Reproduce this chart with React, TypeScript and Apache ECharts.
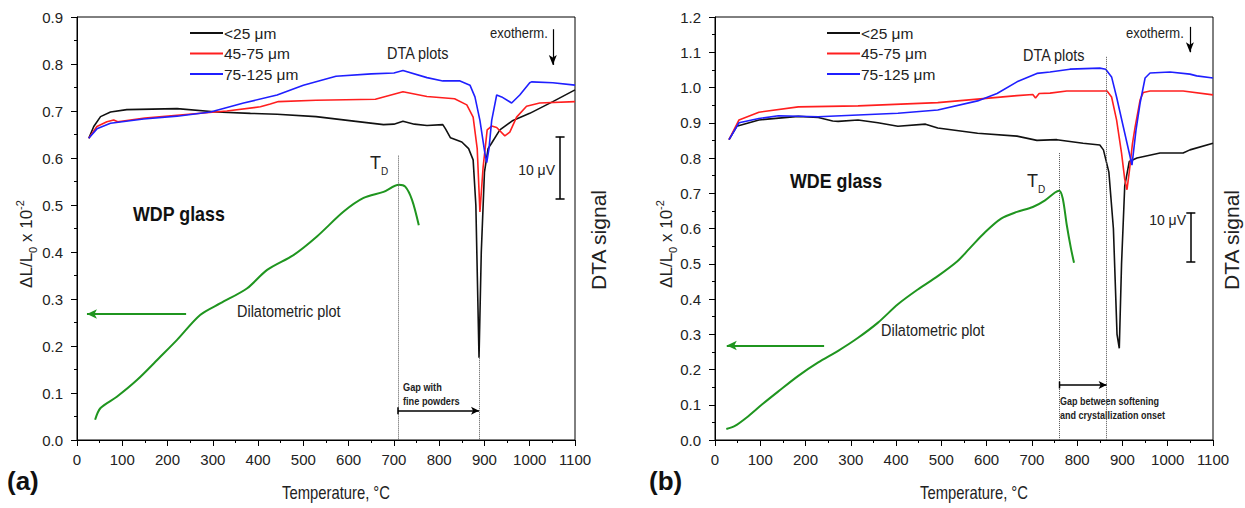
import { useEffect, useRef } from "react";
import * as echarts from "echarts";

// ---------- data (temperature °C, value in left-axis units) ----------
const sizeNames = ["<25 μm", "45-75 μm", "75-125 μm"];
const xTickMax = 1100;
const xTickStep = 100;
const yMaxA = 0.9;
const yMaxB = 1.2;
const yStep = 0.1;

const aBlack = [
  [26, 0.642], [37, 0.667], [52, 0.688], [74, 0.698], [110, 0.703], [221, 0.705], [309, 0.698],
  [383, 0.695], [442, 0.693], [528, 0.688], [616, 0.678], [677, 0.671], [700, 0.672], [720, 0.678],
  [745, 0.672], [773, 0.669], [808, 0.671], [814, 0.662], [825, 0.643], [850, 0.634], [865, 0.62],
  [875, 0.596], [881, 0.5], [888, 0.175], [893, 0.4], [900, 0.57], [908, 0.62], [916, 0.632],
  [934, 0.66], [963, 0.68], [1000, 0.695], [1051, 0.72], [1100, 0.745],
];
const aRed = [
  [26, 0.642], [44, 0.667], [66, 0.677], [81, 0.681], [90, 0.677], [150, 0.685], [221, 0.691],
  [331, 0.7], [405, 0.709], [427, 0.715], [445, 0.72], [528, 0.723], [659, 0.725], [720, 0.741],
  [773, 0.731], [834, 0.726], [861, 0.713], [875, 0.687], [884, 0.62], [890, 0.485],
  [897, 0.58], [906, 0.66], [916, 0.668], [927, 0.665], [945, 0.647], [956, 0.655],
  [971, 0.687], [993, 0.71], [1022, 0.717], [1100, 0.72],
];
const aBlue = [
  [26, 0.642], [44, 0.662], [74, 0.674], [147, 0.683], [221, 0.689], [295, 0.698], [368, 0.717],
  [442, 0.734], [500, 0.755], [572, 0.774], [650, 0.779], [700, 0.781], [720, 0.786],
  [773, 0.771], [808, 0.764], [846, 0.764], [868, 0.755], [879, 0.73], [890, 0.68], [901, 0.61],
  [905, 0.59], [910, 0.62], [916, 0.68], [927, 0.734], [938, 0.73], [960, 0.717], [978, 0.734],
  [1000, 0.76], [1004, 0.762], [1051, 0.76], [1100, 0.755],
];
const aGreen = [
  [40, 0.043], [52, 0.068], [88, 0.092], [133, 0.128], [184, 0.177], [221, 0.213], [272, 0.266],
  [317, 0.291], [376, 0.323], [420, 0.362], [479, 0.394], [530, 0.433], [589, 0.486],
  [633, 0.515], [677, 0.528], [711, 0.543], [725, 0.539], [740, 0.511], [755, 0.457],
];

const bBlack = [
  [31, 0.852], [48, 0.89], [97, 0.908], [184, 0.918], [228, 0.915], [260, 0.905], [272, 0.904],
  [316, 0.908], [360, 0.9], [404, 0.89], [465, 0.896], [492, 0.885], [580, 0.87],
  [667, 0.862], [711, 0.85], [755, 0.852], [813, 0.842], [850, 0.837], [858, 0.823],
  [870, 0.76], [880, 0.6], [888, 0.3], [893, 0.26], [898, 0.5], [905, 0.72], [915, 0.79],
  [932, 0.8], [983, 0.814], [1034, 0.814], [1049, 0.823], [1100, 0.842],
];
const bRed = [
  [31, 0.852], [53, 0.908], [97, 0.93], [184, 0.945], [316, 0.948], [492, 0.957], [580, 0.967],
  [667, 0.977], [702, 0.98], [708, 0.97], [716, 0.983], [740, 0.984], [777, 0.99],
  [866, 0.99], [876, 0.973], [887, 0.908], [898, 0.814], [905, 0.74], [910, 0.71],
  [915, 0.76], [922, 0.84], [928, 0.888], [939, 0.965], [946, 0.986], [961, 0.99],
  [1034, 0.99], [1100, 0.979],
];
const bBlue = [
  [31, 0.852], [53, 0.9], [97, 0.912], [140, 0.92], [228, 0.917], [316, 0.922], [404, 0.927],
  [492, 0.936], [580, 0.962], [623, 0.983], [667, 1.016], [711, 1.04], [740, 1.044],
  [784, 1.052], [850, 1.055], [863, 1.052], [876, 1.03], [887, 0.973], [902, 0.888],
  [921, 0.78], [930, 0.88], [939, 0.956], [950, 1.027], [961, 1.041], [1005, 1.044],
  [1049, 1.038], [1064, 1.033], [1100, 1.027],
];
const bGreen = [
  [25, 0.031], [44, 0.04], [70, 0.064], [105, 0.102], [140, 0.138], [184, 0.182], [228, 0.22],
  [272, 0.253], [316, 0.29], [360, 0.333], [404, 0.385], [448, 0.427], [492, 0.465],
  [536, 0.508], [562, 0.543], [597, 0.59], [632, 0.628], [667, 0.647], [702, 0.661],
  [729, 0.68], [751, 0.702], [760, 0.707], [768, 0.686], [777, 0.61], [786, 0.545], [793, 0.503],
];

// annotation values
const tdA = 709;
const onsetA = 888;
const tdB = 761;
const onsetB = 865;

// ---------- styles ----------
const FONT = '"Liberation Sans", Arial, Helvetica, sans-serif';
const lineColors = ["#111111", "#ff1f1f", "#1f1fff"];
const green = "#1f951f";
const SQ = 0.85; // horizontal squeeze of the original lettering
const INK = "#222";

const grids = [
  { left: 77, top: 17, width: 498, height: 423 },
  { left: 715, top: 17, width: 498, height: 423 },
];

function makeX(i: number) {
  return {
    type: "value",
    gridIndex: i,
    min: 0,
    max: xTickMax,
    interval: xTickStep,
    axisLine: { show: true, onZero: false, lineStyle: { color: "#000", width: 1 } },
    axisTick: { show: true, inside: false, length: 6, lineStyle: { color: "#000" } },
    minorTick: { show: true, splitNumber: 2, length: 3, lineStyle: { color: "#000" } },
    splitLine: { show: false },
    axisLabel: { color: INK, fontSize: 15, fontFamily: FONT, margin: 12, formatter: (v: number) => String(v) },
  };
}
function makeY(i: number, max: number) {
  return {
    type: "value",
    gridIndex: i,
    min: 0,
    max,
    interval: yStep,
    axisLine: { show: true, onZero: false, lineStyle: { color: "#000", width: 1 } },
    axisTick: { show: true, inside: false, length: 6, lineStyle: { color: "#000" } },
    minorTick: { show: true, splitNumber: 2, length: 3, lineStyle: { color: "#000" } },
    splitLine: { show: false },
    axisLabel: {
      color: INK,
      fontSize: 15,
      fontFamily: FONT,
      margin: 14,
      formatter: (v: number) => v.toFixed(1),
    },
  };
}

function curve(name: string, data: number[][], idx: number, color: string, width = 1.6, smooth: number | boolean = false) {
  return {
    type: "line",
    name,
    data,
    xAxisIndex: idx,
    yAxisIndex: idx,
    showSymbol: false,
    symbol: "none",
    smooth,
    lineStyle: { color, width },
    itemStyle: { color },
    emphasis: { disabled: true },
    silent: true,
  };
}

const dotted = { type: "dotted", color: "#555", width: 1 };

function annotations(td: number, tdTop: number, onset: number, onsetTop: number, gapY: number,
  exoX: number, exoTop: number, exoBot: number, barX: number, barTop: number, barBot: number,
  capHalf: number, greenY: number, greenFrom: number, greenTo: number) {
  return [
    [{ coord: [td, tdTop], lineStyle: dotted }, { coord: [td, 0] }],
    [{ coord: [onset, onsetTop], lineStyle: dotted }, { coord: [onset, 0] }],
    [
      { coord: [td, gapY], symbol: "rect", symbolSize: [7, 1.5], lineStyle: { color: "#000", width: 1.5 } },
      { coord: [onset, gapY], symbol: "arrow", symbolSize: [6, 8] },
    ],
    [
      { coord: [exoX, exoTop], lineStyle: { color: "#000", width: 1.2 } },
      { coord: [exoX, exoBot], symbol: "arrow", symbolSize: [6, 10] },
    ],
    [{ coord: [barX, barTop], lineStyle: { color: "#000", width: 1.5 } }, { coord: [barX, barBot] }],
    [{ coord: [barX - capHalf, barTop], lineStyle: { color: "#000", width: 1.5 } }, { coord: [barX + capHalf, barTop] }],
    [{ coord: [barX - capHalf, barBot], lineStyle: { color: "#000", width: 1.5 } }, { coord: [barX + capHalf, barBot] }],
    [
      { coord: [greenFrom, greenY], lineStyle: { color: green, width: 2 } },
      { coord: [greenTo, greenY], symbol: "arrow", symbolSize: [7, 10] },
    ],
  ];
}

function txt(x: number, y: number, text: string, size: number, sx = SQ, extra: any = {}) {
  return {
    type: "text",
    x,
    y,
    scaleX: sx,
    silent: true,
    style: {
      text,
      fontSize: size,
      fontFamily: FONT,
      fill: INK,
      align: "left",
      verticalAlign: "middle",
      ...extra,
    },
  };
}

function yName(x: number, y: number) {
  return {
    type: "text",
    x,
    y,
    rotation: Math.PI / 2,
    silent: true,
    style: {
      text: "{a|ΔL/L}{s|0}{a| x 10}{p|-2}",
      align: "center",
      verticalAlign: "middle",
      fill: INK,
      fontFamily: FONT,
      rich: {
        a: { fontSize: 17, fontFamily: FONT, fill: INK, lineHeight: 24, verticalAlign: "middle" },
        s: { fontSize: 11, fontFamily: FONT, fill: INK, verticalAlign: "bottom" },
        p: { fontSize: 11, fontFamily: FONT, fill: INK, verticalAlign: "top" },
      },
    },
  };
}

function tdLabel(x: number, y: number) {
  return {
    type: "text",
    x,
    y,
    silent: true,
    style: {
      text: "{t|T}{d|D}",
      align: "left",
      verticalAlign: "middle",
      fill: INK,
      fontFamily: FONT,
      rich: {
        t: { fontSize: 18, fontFamily: FONT, fill: INK, lineHeight: 26 },
        d: { fontSize: 10, fontFamily: FONT, fill: INK, verticalAlign: "bottom" },
      },
    },
  };
}

function dtaSignal(x: number) {
  return {
    type: "text", x, y: 240, rotation: Math.PI / 2, silent: true,
    style: { text: "DTA signal", fontSize: 21, fontFamily: FONT, fill: INK, align: "center", verticalAlign: "middle" },
  };
}

export default function App() {
  const ref = useRef<HTMLDivElement>(null);
  useEffect(() => {
    if (!ref.current) return;
    const chart = echarts.init(ref.current, null, { renderer: "svg" });
    const panels = [
      { black: aBlack, red: aRed, blue: aBlue, green: aGreen },
      { black: bBlack, red: bRed, blue: bBlue, green: bGreen },
    ];
    const series: any[] = [];
    panels.forEach((p, i) => {
      series.push(curve(sizeNames[0], p.black, i, lineColors[0]));
      series.push(curve(sizeNames[1], p.red, i, lineColors[1]));
      series.push(curve(sizeNames[2], p.blue, i, lineColors[2]));
      const g: any = curve("Dilatometric plot " + i, p.green, i, green, 2, 0.3);
      g.markLine = {
        silent: true,
        symbol: ["none", "none"],
        label: { show: false },
        emphasis: { disabled: true },
        lineStyle: { color: "#000", width: 1, type: "solid" },
        data:
          i === 0
            ? annotations(tdA, 0.605, onsetA, 0.175, 0.062, 1051, 0.874, 0.798, 1067, 0.645, 0.513, 10, 0.268, 241, 22)
            : annotations(tdB, 0.814, onsetB, 1.087, 0.156, 1049, 1.172, 1.1, 1051, 0.645, 0.505, 10, 0.268, 241, 26),
      };
      series.push(g);
    });

    const legendBase = {
      orient: "vertical",
      top: 24.5,
      padding: 0,
      data: sizeNames,
      icon: "rect",
      itemWidth: 33,
      itemHeight: 2,
      itemGap: 3.5,
      selectedMode: false,
      textStyle: { fontSize: 15.5, fontFamily: FONT, color: INK, lineHeight: 17, padding: [0, 0, 0, -4] },
    };

    chart.setOption({
      animation: false,
      backgroundColor: "#fff",
      grid: grids.map((g) => ({ ...g, show: true, borderColor: "#000", borderWidth: 1, backgroundColor: "transparent" })),
      xAxis: [makeX(0), makeX(1)],
      yAxis: [makeY(0, yMaxA), makeY(1, yMaxB)],
      legend: [
        { ...legendBase, left: 190 },
        { ...legendBase, left: 827 },
      ],
      series,
      graphic: [
        // panel a
        txt(387, 53, "DTA plots", 17),
        txt(490, 33, "exotherm.", 14, 0.93),
        txt(555, 170, "10 μV", 14, 1, { align: "right" }),
        tdLabel(370, 163),
        txt(133, 213, "WDP glass", 21, SQ, { fontWeight: "bold", fill: "#111" }),
        txt(237, 311, "Dilatometric plot", 17),
        txt(403, 387, "Gap with", 10, 0.92, { fontWeight: "bold" }),
        txt(403, 401, "fine powders", 10, 0.92, { fontWeight: "bold" }),
        txt(7, 481, "(a)", 26, 1, { fontWeight: "bold", fill: "#111" }),
        txt(336, 493, "Temperature, °C", 18.5, 0.8, { align: "center" }),
        yName(26, 244),
        dtaSignal(598),
        // panel b
        txt(1023, 55, "DTA plots", 17),
        txt(1126, 33, "exotherm.", 14, 0.93),
        txt(1186, 220, "10 μV", 14, 1, { align: "right" }),
        tdLabel(1027, 181),
        txt(790, 180, "WDE glass", 21, SQ, { fontWeight: "bold", fill: "#111" }),
        txt(881, 330, "Dilatometric plot", 17),
        txt(1060, 401, "Gap between softening", 10, 0.9, { fontWeight: "bold" }),
        txt(1060, 415, "and crystallization onset", 10, 0.9, { fontWeight: "bold" }),
        txt(649, 481, "(b)", 26, 1, { fontWeight: "bold", fill: "#111" }),
        txt(974, 493, "Temperature, °C", 18.5, 0.8, { align: "center" }),
        yName(666, 244),
        dtaSignal(1231),
      ],
    });
    return () => chart.dispose();
  }, []);
  return <div ref={ref} style={{ position: "absolute", left: 0, top: 0, width: 1245, height: 508 }} />;
}
